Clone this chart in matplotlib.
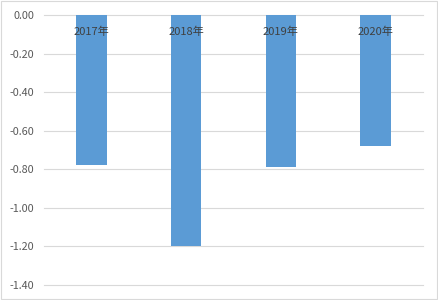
import matplotlib
matplotlib.use("Agg")
import matplotlib.pyplot as plt
from matplotlib.patches import Rectangle

plt.rcParams['font.family'] = ['Noto Sans CJK SC', 'DejaVu Sans']

years = ['2017年', '2018年', '2019年', '2020年']
values = [-0.78, -1.20, -0.79, -0.68]
y_ticks = [0.0, -0.2, -0.4, -0.6, -0.8, -1.0, -1.2, -1.4]

fig = plt.figure(figsize=(4.39, 3.00), dpi=100)
ax = fig.add_axes([0.1002, 0.051, 0.8634, 0.898])

x = range(len(years))
ax.bar(x, values, width=0.32, color='#5b9bd5', zorder=3)

ax.set_xlim(-0.5, 3.5)
ax.set_ylim(-1.4, 0)
ax.set_yticks(y_ticks)
ax.set_yticklabels([f'{v:.2f}' for v in y_ticks])
ax.set_xticks(list(x))
ax.set_xticklabels(years)

# category axis crosses at zero, labels sit just under it
ax.spines['bottom'].set_position(('data', 0))
for s in ax.spines.values():
    s.set_visible(False)

ax.tick_params(axis='y', length=0, pad=7, labelsize=7.8, labelcolor='#595959')
ax.tick_params(axis='x', length=0, pad=8.5, labelsize=8, labelcolor='#404040')

ax.grid(axis='y', color='#d9d9d9', linewidth=0.8)
ax.set_axisbelow(True)
ax.xaxis.set_zorder(5)
for gl in ax.get_ygridlines():
    gl.set_clip_on(False)

fig.patches.append(Rectangle((0.003, 0.004), 0.993, 0.992, transform=fig.transFigure,
                             fill=False, edgecolor='#d9d9d9', linewidth=0.8))

fig.savefig('out.png', dpi=100)
